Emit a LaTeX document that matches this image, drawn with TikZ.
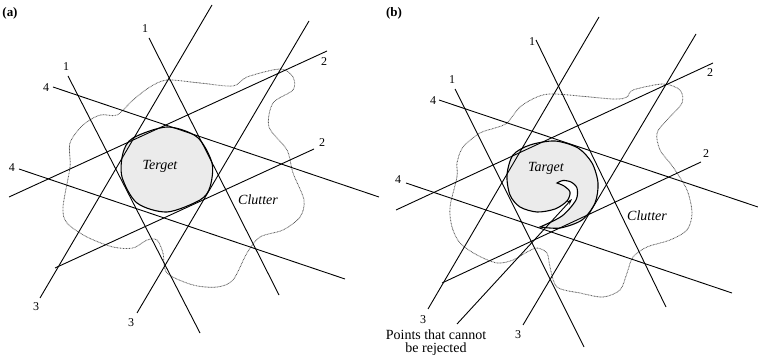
\documentclass[tikz,border=0pt]{standalone}
\usepackage{fontspec}
\setmainfont{Liberation Serif}
\usetikzlibrary{arrows.meta}
\begin{document}
\begin{tikzpicture}[x=1pt,y=-1pt,
  ray/.style={line width=0.9pt},
  num/.style={font=\fontsize{12}{14}\selectfont, inner sep=0pt},
  lab/.style={font=\fontsize{14}{16}\selectfont\itshape, inner sep=0pt},
  clutter/.style={black!65, dash pattern=on 0.8pt off 0.7pt, line width=0.8pt},
  target/.style={line width=1.1pt, fill=black!8}]
\useasboundingbox (0,0) rectangle (758,358);
% ---------------- panel (a) ----------------
\node[font=\fontsize{13}{15}\selectfont\bfseries, inner sep=0pt] (pa) at (10,13) {(a)};
\draw[clutter] plot[smooth cycle] coordinates {(167,80) (200,83) (233,86) (247,77) (280,69) (293,77) (293,90) (273,103) (269,127) (287,150) (293,173) (304,200) (300,217) (283,230) (260,237) (247,253) (233,280) (217,287) (193,285) (167,273) (163,253) (157,240) (147,240) (133,248) (113,247) (87,237) (67,223) (63,207) (70,167) (70,143) (83,125) (100,115) (117,115) (133,100) (150,87)};
\draw[target] plot[smooth cycle] coordinates {(167,127) (197,137) (212,163) (210,187) (200,200) (167,212) (137,203) (122,177) (123,153) (133,138)};
\coordinate (a1s) at (149,38);  \coordinate (a1e) at (279,295);
\coordinate (a1bs) at (68,76);  \coordinate (a1be) at (200,333);
\coordinate (a3s) at (40,298);  \coordinate (a3e) at (212,5);
\coordinate (a3bs) at (137,313); \coordinate (a3be) at (309,21);
\coordinate (a2s) at (9,197);   \coordinate (a2e) at (327,51);
\coordinate (a2bs) at (55,268); \coordinate (a2be) at (314,149);
\coordinate (a4s) at (53,87);   \coordinate (a4e) at (379,197);
\coordinate (a4bs) at (19,169); \coordinate (a4be) at (345,279);
\draw[ray] (a1s) -- (a1e);
\draw[ray] (a1bs) -- (a1be);
\draw[ray] (a3s) -- (a3e);
\draw[ray] (a3bs) -- (a3be);
\draw[ray] (a2s) -- (a2e);
\draw[ray] (a2bs) -- (a2be);
\draw[ray] (a4s) -- (a4e);
\draw[ray] (a4bs) -- (a4be);
\node[num] (an1) at (145,29) {1};
\node[num] (an1b) at (66,67) {1};
\node[num] (an3) at (36,307) {3};
\node[num] (an3b) at (131,323) {3};
\node[num] (an2) at (324,62) {2};
\node[num] (an2b) at (322,143) {2};
\node[num] (an4) at (46,88) {4};
\node[num] (an4b) at (12,168) {4};
\node[lab] (aterget) at (160,166) {Terget};
\node[lab] (aclutter) at (258,200) {Clutter};
% ---------------- panel (b) ----------------
\node[font=\fontsize{13}{15}\selectfont\bfseries, inner sep=0pt] (pb) at (394,13) {(b)};
\draw[clutter] plot[smooth cycle] coordinates {(555,94) (613,99) (627,97) (633,90) (663,84) (680,90) (682,103) (667,120) (657,133) (660,150) (673,167) (687,190) (692,213) (687,230) (670,240) (647,247) (633,257) (627,273) (620,290) (603,297) (580,293) (557,287) (550,267) (547,253) (537,248) (527,252) (513,260) (497,263) (477,255) (460,243) (452,227) (450,207) (457,177) (457,163) (463,147) (480,133) (495,128) (507,123) (520,107) (537,97)};
\draw[target] (540,227) -- plot[smooth] coordinates {(540,227) (560,228) (582,220) (595,203) (598,183) (592,163) (578,148) (555,141) (530,145) (513,155) (507,175) (510,195) (520,207) (537,212) (555,209) (567,201) (570,192) (564,186) (557,183)}
  -- plot[smooth] coordinates {(557,183) (563,180.5) (571,182) (577,188) (576,200) (562,216) (540,227)} -- cycle;
\coordinate (b1s) at (536,40);  \coordinate (b1e) at (666,307);
\coordinate (b1bs) at (455,89); \coordinate (b1be) at (584,347);
\coordinate (b3s) at (428,309); \coordinate (b3e) at (599,17);
\coordinate (b3bs) at (523,325); \coordinate (b3be) at (696,34);
\coordinate (b2s) at (396,210); \coordinate (b2e) at (713,63);
\coordinate (b2bs) at (442,283); \coordinate (b2be) at (701,162);
\coordinate (b4s) at (439,100); \coordinate (b4e) at (758,207);
\coordinate (b4bs) at (406,183); \coordinate (b4be) at (732,293);
\draw[ray] (b1s) -- (b1e);
\draw[ray] (b1bs) -- (b1be);
\draw[ray] (b3s) -- (b3e);
\draw[ray] (b3bs) -- (b3be);
\draw[ray] (b2s) -- (b2e);
\draw[ray] (b2bs) -- (b2be);
\draw[ray] (b4s) -- (b4e);
\draw[ray] (b4bs) -- (b4be);
\node[num] (bn1) at (532,42) {1};
\node[num] (bn1b) at (452,80) {1};
\node[num] (bn3) at (423,320) {3};
\node[num] (bn3b) at (518,335) {3};
\node[num] (bn2) at (710,73) {2};
\node[num] (bn2b) at (706,154) {2};
\node[num] (bn4) at (433,101) {4};
\node[num] (bn4b) at (398,180) {4};
\node[lab] (btarget) at (546,168) {Target};
\node[lab] (bclutter) at (647,216) {Clutter};
\node[font=\fontsize{14}{13}\selectfont, align=center, inner sep=0pt] (bpts) at (436,343) {Points that cannot\\be rejected};
\coordinate (arrS) at (457,324);
\coordinate (arrT) at (572,199);
\draw[line width=0.9pt, -{Stealth[length=6pt,width=4pt]}] (arrS) -- (arrT);
\end{tikzpicture}
\end{document}
